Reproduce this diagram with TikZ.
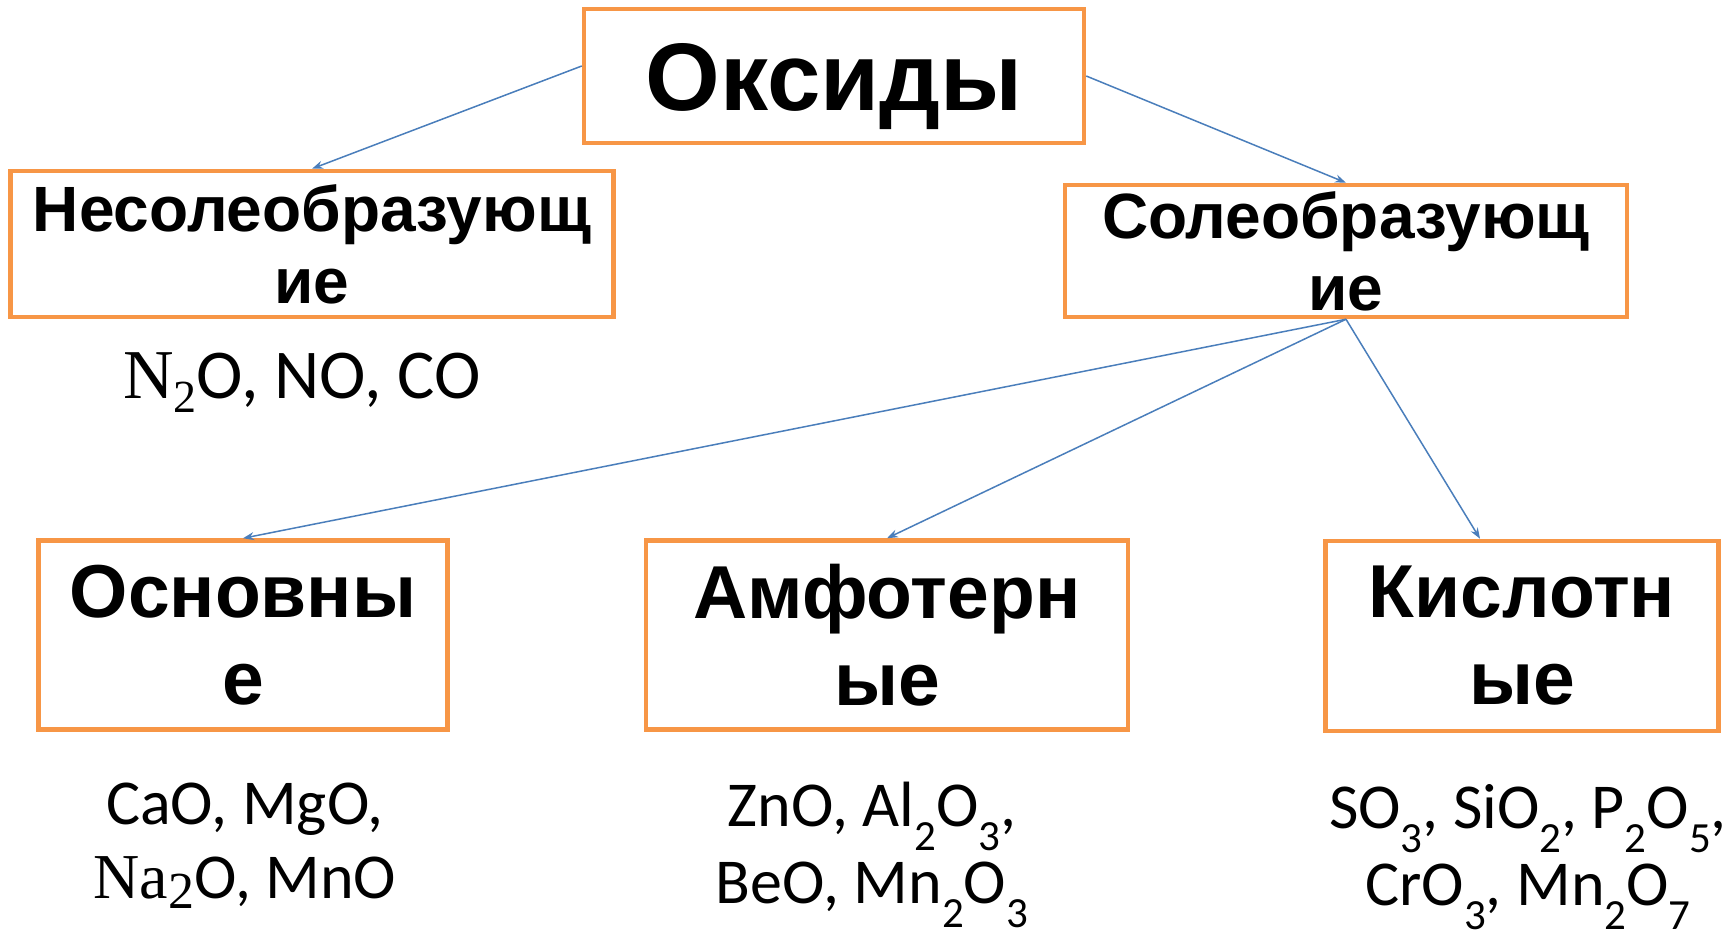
\documentclass[tikz,border=0pt]{standalone}
\usepackage{fontspec}
\setmainfont{Carlito}
\newfontfamily\hfont{Liberation Sans}
\newfontfamily\sfont{Liberation Serif}
\usetikzlibrary{arrows.meta}
\definecolor{boxorange}{HTML}{F79646}
\definecolor{linkblue}{HTML}{4A7EBB}
\newcommand{\ind}[1]{\raisebox{-24pt}{\fontsize{43}{43}\selectfont #1}}
\begin{document}
\begin{tikzpicture}[x=1pt,y=-1pt,
  box/.style={draw=boxorange,line width=4.5pt,inner sep=0pt,align=center},
  big/.style={font=\hfont\bfseries\fontsize{96}{110}\selectfont,text height=70pt,text depth=0pt},
  mid/.style={font=\hfont\bfseries\fontsize{64}{72}\selectfont},
  low/.style={font=\hfont\bfseries\fontsize{75}{87}\selectfont},
  formula/.style={align=center,inner sep=0pt,anchor=base},
  link/.style={draw=linkblue,line width=1.5pt,-{Stealth[length=11pt,width=8pt]}}]
\useasboundingbox (0,0) rectangle (1734,931);
\node[box,big,minimum width=500pt,minimum height=134pt] (oks) at (834,76) {Оксиды};
\node[box,mid,minimum width=603pt,minimum height=146pt] (nes) at (312,244) {Несолеобразующ\\ие};
\node[box,mid,minimum width=562pt,minimum height=132pt] (sol) at (1346,251) {Солеобразующ\\ие};
\node[box,low,minimum width=409pt,minimum height=189pt] (osn) at (243,635) {Основны\\е};
\node[box,low,minimum width=482pt,minimum height=189pt] (amf) at (887,635) {Амфотерн\\ые};
\node[box,low,minimum width=393pt,minimum height=190pt] (kis) at (1522,636) {Кислотн\\ые};
\node[formula,font=\fontsize{70}{80}\selectfont] (nesf) at (302,398)
  {{\sfont N\raisebox{-14pt}{\fontsize{46}{46}\selectfont 2}}O, NO, CO};
\node[formula,font=\fontsize{64}{74}\selectfont] (osnf) at (245,898)
  {CaO, MgO,\\{\sfont Na\raisebox{-10pt}{\fontsize{52}{52}\selectfont 2}}O, MnO};
\node[formula,font=\fontsize{64}{77}\selectfont] (amff) at (872,903)
  {ZnO, Al\ind{2}O\ind{3},\\BeO, Mn\ind{2}O\ind{3}};
\node[formula,font=\fontsize{64}{77}\selectfont] (kisf) at (1528,905)
  {SO\ind{3}, SiO\ind{2}, P\ind{2}O\ind{5},\\CrO\ind{3}, Mn\ind{2}O\ind{7}};
\draw[link] ([yshift=10pt]oks.west) -- (nes.north);
\draw[link] (oks.east) -- (sol.north);
\draw[link] (sol.south) -- (osn.north);
\draw[link] (sol.south) -- (amf.north);
\draw[link] (sol.south) -- ([xshift=-42pt]kis.north);
\end{tikzpicture}
\end{document}
